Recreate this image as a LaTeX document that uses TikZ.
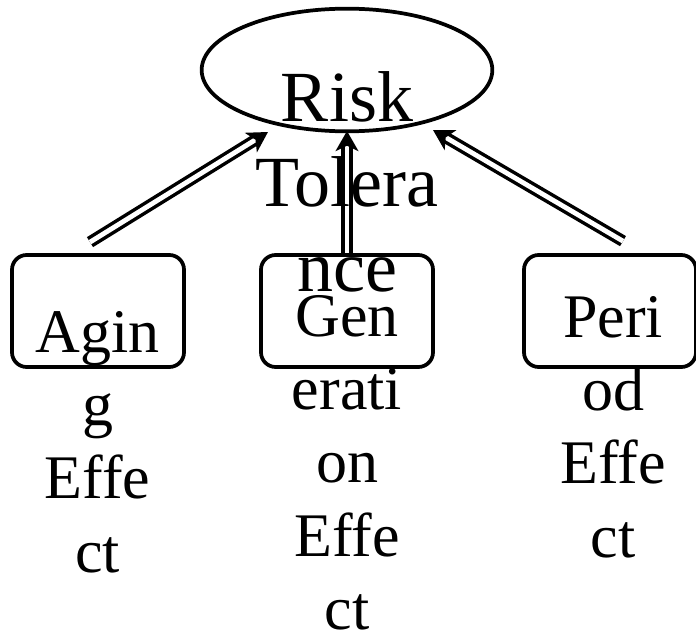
\documentclass[tikz,border=0pt]{standalone}
\usepackage{fontspec}
\setmainfont{Liberation Serif}
\usepackage{tikz}
\usetikzlibrary{arrows.meta,shapes.geometric}

\begin{document}
\begin{tikzpicture}[x=0.75pt,y=-0.75pt,
    outline/.style={draw, line width=2.8pt},
    riskshape/.style={outline, ellipse, inner sep=0pt, minimum width=218pt, minimum height=92pt},
    effectbox/.style={outline, rectangle, rounded corners=11pt, inner sep=0pt, minimum width=129pt, minimum height=84pt},
    boxtext/.style={align=center, inner sep=0pt, anchor=north, font=\fontsize{46.5}{55}\selectfont},
    risktext/.style={align=center, inner sep=0pt, anchor=north, font=\fontsize{54}{64}\selectfont},
    link/.style={draw, line width=2.6pt, double distance=3.6pt, -{Stealth[length=15pt, width=17pt, inset=4pt]}}]
    \useasboundingbox (0,0) rectangle (696,638);

    % Nodes
    \node[riskshape] (risk) at (347,70) {};
    \node[effectbox] (aging) at (98,311) {};
    \node[effectbox] (gen) at (347,311) {};
    \node[effectbox] (period) at (610,311) {};

    % Edges
    \draw[link] ([shift={(-8,-11)}]aging.north) -- ([shift={(-79,62)}]risk.center);
    \draw[link] (gen.north) -- ([shift={(0,61)}]risk.center);
    \draw[link] ([shift={(13,-12)}]period.north) -- ([shift={(86,60)}]risk.center);

    % Labels
    \node[risktext] (risklbl) at (347,71) {Risk\\Tolera\\nce};
    \node[boxtext] (aginglbl) at (97.5,311) {Agin\\g\\Effe\\ct};
    \node[boxtext] (genlbl) at (347,295) {Gen\\erati\\on\\Effe\\ct};
    \node[boxtext] (periodlbl) at (613,296) {Peri\\od\\Effe\\ct};
\end{tikzpicture}
\end{document}
